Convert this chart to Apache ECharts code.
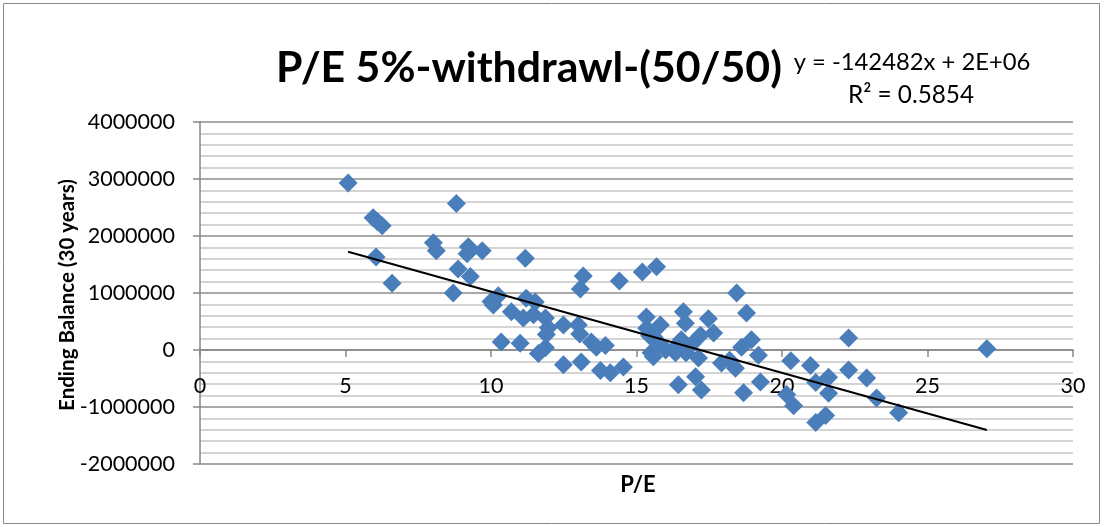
<!DOCTYPE html>
<html>
<head>
<meta charset="utf-8">
<script src="https://cdn.jsdelivr.net/npm/echarts@6/dist/echarts.min.js"></script>
<style>
html,body{margin:0;padding:0;background:#fff;}
#chart{width:1104px;height:527px;}
</style>
</head>
<body>
<div id="chart"></div>
<script>
const titleText = 'P/E 5%-withdrawl-(50/50)';
const xAxisName = 'P/E';
const yAxisName = 'Ending Balance (30 years)';
const equationText = 'y = -142482x + 2E+06';
const r2Text = 'R² = 0.5854';

const peValues = [
  5.09, 5.95, 6.1, 6.26, 6.05, 6.6, 8.81, 8.02, 8.12, 9.22, 9.18, 9.70, 8.87, 9.29, 8.70, 11.18,
  10.08, 10.25, 10.0, 10.7, 11.11, 11.21, 11.52, 11.46, 11.87, 11.97, 11.9, 12.49, 13.0, 13.05,
  13.45, 13.62, 13.93, 10.35, 11.0, 11.63, 11.87, 12.49, 13.1, 13.76, 14.1, 14.55, 13.07, 13.17,
  14.41, 15.2, 15.69,
  15.34, 15.82, 15.35, 15.6, 15.9, 15.58, 15.5, 16.61, 16.68, 17.47, 17.65, 17.2, 16.54, 16.34,
  16.7, 17.13, 16.44, 17.03, 17.23, 17.92, 18.4, 18.61, 18.95, 19.19, 18.44, 18.78, 19.26, 18.68,
  18.2, 16.0, 16.9, 15.45, 16.45,
  20.3, 20.98, 22.29, 22.29, 21.6, 21.16, 21.6, 22.91, 23.25, 24.01, 20.16, 20.4, 21.16, 21.5, 27.04
];
const endingBalance = [
  2930000, 2320000, 2250000, 2180000, 1630000, 1170000, 2570000, 1880000, 1740000, 1810000, 1690000, 1740000, 1420000, 1290000, 1000000, 1610000,
  790000, 950000, 850000, 670000, 560000, 910000, 840000, 620000, 560000, 390000, 270000, 440000, 440000, 280000,
  140000, 50000, 80000, 140000, 120000, -60000, 40000, -260000, -210000, -360000, -400000, -300000, 1070000, 1300000,
  1210000, 1370000, 1460000,
  580000, 440000, 380000, 230000, 60000, -120000, -50000, 670000, 470000, 550000, 300000, 260000, 180000, -50000,
  -50000, -140000, -610000, -470000, -700000, -230000, -320000, 50000, 180000, -90000, 1000000, 650000, -560000, -750000,
  -180000, 0, 100000, 250000, 100000,
  -190000, -270000, 210000, -350000, -480000, -570000, -760000, -490000, -840000, -1100000, -780000, -980000, -1270000, -1150000, 20000
];
const trendSlope = -142482;
const trendIntercept = 2450000;

const xTicks = [0, 5, 10, 15, 20, 25, 30];
const yTicks = [-2000000, -1000000, 0, 1000000, 2000000, 3000000, 4000000];

const points = peValues.map((x, i) => [x, endingBalance[i]]);
const xMin = Math.min(...peValues), xMax = Math.max(...peValues);
const trend = [[xMin, trendSlope * xMin + trendIntercept], [xMax, trendSlope * xMax + trendIntercept]];

const FONT = 'Lato, "Open Sans", sans-serif';
const GRID_TOP = 122, GRID_BOTTOM = 63;
const gridH = 527 - GRID_TOP - GRID_BOTTOM;
const yMin = yTicks[0], yMax = yTicks[yTicks.length - 1];
// lift the category axis up to the y = 0 line (Excel "axis crosses at 0")
const xAxisLift = gridH * (0 - yMin) / (yMax - yMin);

const chart = echarts.init(document.getElementById('chart'), null, {renderer: 'canvas'});
chart.setOption({
  animation: false,
  backgroundColor: '#ffffff',
  grid: {left: 200, right: 31, top: GRID_TOP, bottom: GRID_BOTTOM, containLabel: false},
  xAxis: {
    type: 'value',
    min: xTicks[0], max: xTicks[xTicks.length - 1], interval: 5,
    offset: -xAxisLift,
    axisLine: {show: true, onZero: false, lineStyle: {color: '#868686', width: 1.5}},
    axisTick: {show: true, inside: false, length: 7, lineStyle: {color: '#868686', width: 1.5}},
    axisLabel: {color: '#000', fontSize: 21.5, fontFamily: FONT, margin: 25},
    splitLine: {show: false}
  },
  yAxis: {
    type: 'value',
    min: yMin, max: yMax, interval: 1000000,
    minorTick: {show: false, splitNumber: 5},
    minorSplitLine: {show: true, lineStyle: {color: '#c6c6c6', width: 1.6}},
    axisLine: {show: true, lineStyle: {color: '#868686', width: 1.5}},
    axisTick: {show: true, length: 7, lineStyle: {color: '#868686', width: 1.5}},
    axisLabel: {color: '#000', fontSize: 21.5, fontFamily: FONT, margin: 25, formatter: v => String(v)},
    splitLine: {show: true, lineStyle: {color: '#8c8c8c', width: 1.6}}
  },
  graphic: [
    {type: 'rect', shape: {x: 3.5, y: 3.5, width: 1096, height: 520}, style: {fill: 'none', stroke: '#868686', lineWidth: 1}, silent: true, z: -10},
    {type: 'text', x: 529, y: 68, style: {text: titleText, font: 'bold 42.8px ' + FONT, fill: '#000', align: 'center', verticalAlign: 'middle'}},
    {type: 'text', x: 912, y: 62, style: {text: equationText, font: '23.8px ' + FONT, fill: '#000', align: 'center', verticalAlign: 'middle'}},
    {type: 'text', x: 911, y: 95, style: {text: r2Text, font: '24.3px ' + FONT, fill: '#000', align: 'center', verticalAlign: 'middle'}},
    {type: 'text', x: 638, y: 485, style: {text: xAxisName, font: 'bold 22px ' + FONT, fill: '#000', align: 'center', verticalAlign: 'middle'}},
    {type: 'text', x: 67, y: 295, rotation: Math.PI / 2, style: {text: yAxisName, font: 'bold 20.5px ' + FONT, fill: '#000', align: 'center', verticalAlign: 'middle'}}
  ],
  series: [
    {
      type: 'scatter',
      data: points,
      symbol: 'diamond',
      symbolSize: 19,
      itemStyle: {color: '#4A7EBB', opacity: 1},
      z: 3
    },
    {
      type: 'line',
      data: trend,
      symbol: 'none',
      lineStyle: {color: '#000', width: 2},
      z: 4
    }
  ]
});
</script>
</body>
</html>
